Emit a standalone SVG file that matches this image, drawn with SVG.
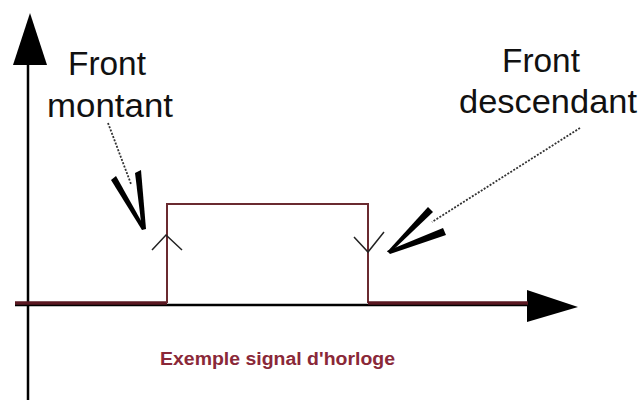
<svg xmlns="http://www.w3.org/2000/svg" width="640" height="400" viewBox="0 0 640 400">
<style>
.axis{stroke:#000;stroke-width:2.5;fill:none}
.sig{stroke:#6a2a30;stroke-width:2;fill:none}
.low{stroke:#5a1822;stroke-width:3.5;fill:none}
.chev{stroke:#222;stroke-width:1.5;fill:none}
.lbl{font-family:"Liberation Sans",Arial,sans-serif;font-size:33px;fill:#111}
.cap{font-family:"Liberation Sans",Arial,sans-serif;font-size:18px;font-weight:bold;fill:#8a2838}
.dash{stroke:#333;stroke-width:1.8;stroke-dasharray:2 1.5;fill:none}
.head{fill:#000}
</style>
<rect width="640" height="400" fill="#fff"/>
<g id="axes">
<line class="axis" x1="28" y1="400" x2="28" y2="60"/>
<polygon class="head" points="30,13 13,65 47,65"/>
<line class="axis" x1="15" y1="305" x2="530" y2="305"/>
<polygon class="head" points="527,290 578,307 527,322"/>
</g>
<g id="signal">
<line class="low" x1="15" y1="303" x2="167" y2="303"/>
<polyline class="sig" points="167,303 167,204 368,204 368,303"/>
<line class="low" x1="368" y1="303" x2="528" y2="303"/>
<polyline class="chev" points="152,250 166,235 182,250"/>
<polyline class="chev" points="354,237 368,252 384,232"/>
</g>
<g id="label-montant">
<text class="lbl" x="68" y="75" textLength="78" lengthAdjust="spacingAndGlyphs">Front</text>
<text class="lbl" x="47" y="117" textLength="126" lengthAdjust="spacingAndGlyphs">montant</text>
</g>
<g id="label-descendant">
<text class="lbl" x="502" y="72" textLength="78" lengthAdjust="spacingAndGlyphs">Front</text>
<text class="lbl" x="459" y="113" textLength="178" lengthAdjust="spacingAndGlyphs">descendant</text>
</g>
<g id="caption">
<text class="cap" x="160" y="365" textLength="235" lengthAdjust="spacingAndGlyphs">Exemple signal d'horloge</text>
</g>
<g id="connectors">
<line class="dash" x1="108" y1="123" x2="131" y2="184"/>
<polygon class="head" points="111,180 116,176 144,226 142,230"/>
<polygon class="head" points="135,173 141,170 146,229 142,230"/>
<line class="dash" x1="580" y1="128" x2="432" y2="222"/>
<polygon class="head" points="428,207 433,212 391,252 387,252"/>
<polygon class="head" points="443,228 446,235 390,254 387,251"/>
</g>
</svg>
